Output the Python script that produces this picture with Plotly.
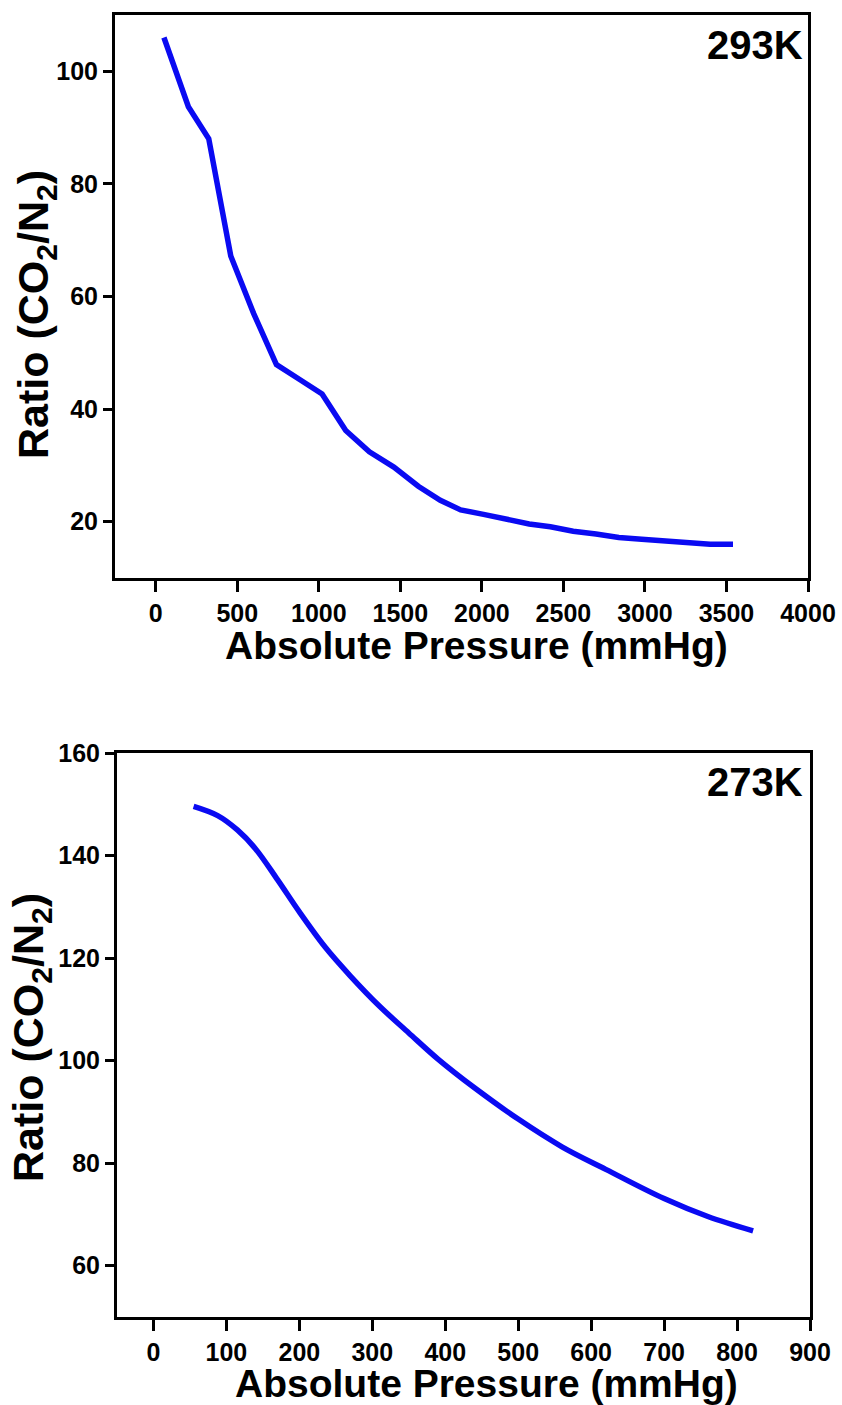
import plotly.graph_objects as go

# 293K data
p293 = [50, 200, 325, 460, 600, 740, 880, 1020, 1165, 1310, 1460, 1610, 1745, 1870,
        2010, 2150, 2290, 2420, 2560, 2700, 2840, 2980, 3120, 3260, 3400, 3540]
r293 = [106.0, 93.7, 88.0, 67.2, 57.0, 47.9, 45.3, 42.7, 36.2, 32.4, 29.7, 26.3, 23.8, 22.1,
        21.3, 20.4, 19.6, 19.1, 18.3, 17.8, 17.2, 16.9, 16.6, 16.2, 16.0, 16.0]

# 273K data
p273 = [55, 88, 115, 140, 170, 200, 235, 270, 310, 350, 390, 440, 500, 560, 620, 700, 760, 822]
r273 = [149.6, 147.8, 145.0, 141.3, 135.3, 129.0, 122.2, 116.5, 110.6, 105.4, 100.3, 94.7,
        88.6, 83.2, 78.8, 73.1, 69.6, 66.8]

x1_ticks = [0, 500, 1000, 1500, 2000, 2500, 3000, 3500, 4000]
y1_ticks = [20, 40, 60, 80, 100]
x2_ticks = [0, 100, 200, 300, 400, 500, 600, 700, 800, 900]
y2_ticks = [60, 80, 100, 120, 140, 160]

W, H = 842, 1405
FONT = "Liberation Sans, Arial, sans-serif"
LINE = "#0A0AF2"

fig = go.Figure()
fig.add_trace(go.Scatter(x=p293, y=r293, mode="lines", line=dict(color=LINE, width=5.5),
                         xaxis="x", yaxis="y", showlegend=False, hoverinfo="skip"))
fig.add_trace(go.Scatter(x=p273, y=r273, mode="lines", line=dict(color=LINE, width=5.5, shape="spline"),
                         xaxis="x2", yaxis="y2", showlegend=False, hoverinfo="skip"))

tickfont = dict(family=FONT, size=25, color="black", weight="bold")
common = dict(showline=True, linewidth=3, linecolor="black", mirror=True, ticks="outside",
              tickwidth=3, tickcolor="black", showgrid=False, zeroline=False,
              tickfont=tickfont, automargin=False, fixedrange=True)

fig.update_layout(
    width=W, height=H, margin=dict(l=0, r=0, t=0, b=0, pad=0),
    paper_bgcolor="white", plot_bgcolor="white",
    xaxis=dict(domain=[115 / W, 808 / W], anchor="y", range=[-250, 4000], tickvals=x1_ticks,
               ticklen=11, **common),
    yaxis=dict(domain=[1 - 578 / H, 1 - 15 / H], anchor="x", range=[10, 110], tickvals=y1_ticks,
               ticklen=9, **common),
    xaxis2=dict(domain=[117 / W, 810 / W], anchor="y2", range=[-50, 900], tickvals=x2_ticks,
                ticklen=11, **common),
    yaxis2=dict(domain=[1 - 1317 / H, 1 - 753 / H], anchor="x2", range=[50, 160], tickvals=y2_ticks,
                ticklen=9, **common),
)

title_font = dict(family=FONT, size=39, color="black", weight="bold")
ytitle_font = dict(family=FONT, size=43, color="black", weight="bold")
label_font = dict(family=FONT, size=40, color="black", weight="bold")

ann = [
    dict(text="Absolute Pressure (mmHg)", x=476 / W, y=1 - 645 / H, font=title_font),
    dict(text="Absolute Pressure (mmHg)", x=486 / W, y=1 - 1383 / H, font=title_font),
    dict(text="Ratio (CO<sub>2</sub>/N<sub>2</sub>)", x=36 / W, y=1 - 315 / H, font=ytitle_font, textangle=-90),
    dict(text="Ratio (CO<sub>2</sub>/N<sub>2</sub>)", x=31 / W, y=1 - 1038 / H, font=ytitle_font, textangle=-90),
]
for a in ann:
    fig.add_annotation(xref="paper", yref="paper", xanchor="center", yanchor="middle",
                       showarrow=False, borderpad=0, **a)

fig.add_annotation(xref="paper", yref="paper", x=805 / W, y=1 - 45 / H, xanchor="right", yanchor="middle",
                   text="293K", showarrow=False, font=label_font)
fig.add_annotation(xref="paper", yref="paper", x=805 / W, y=1 - 782 / H, xanchor="right", yanchor="middle",
                   text="273K", showarrow=False, font=label_font)

fig.write_html(
    "out.html",
    config={"displayModeBar": False, "responsive": False},
    post_script="document.body.style.margin='0';document.body.style.padding='0';"
                "document.body.style.overflow='hidden';",
)
